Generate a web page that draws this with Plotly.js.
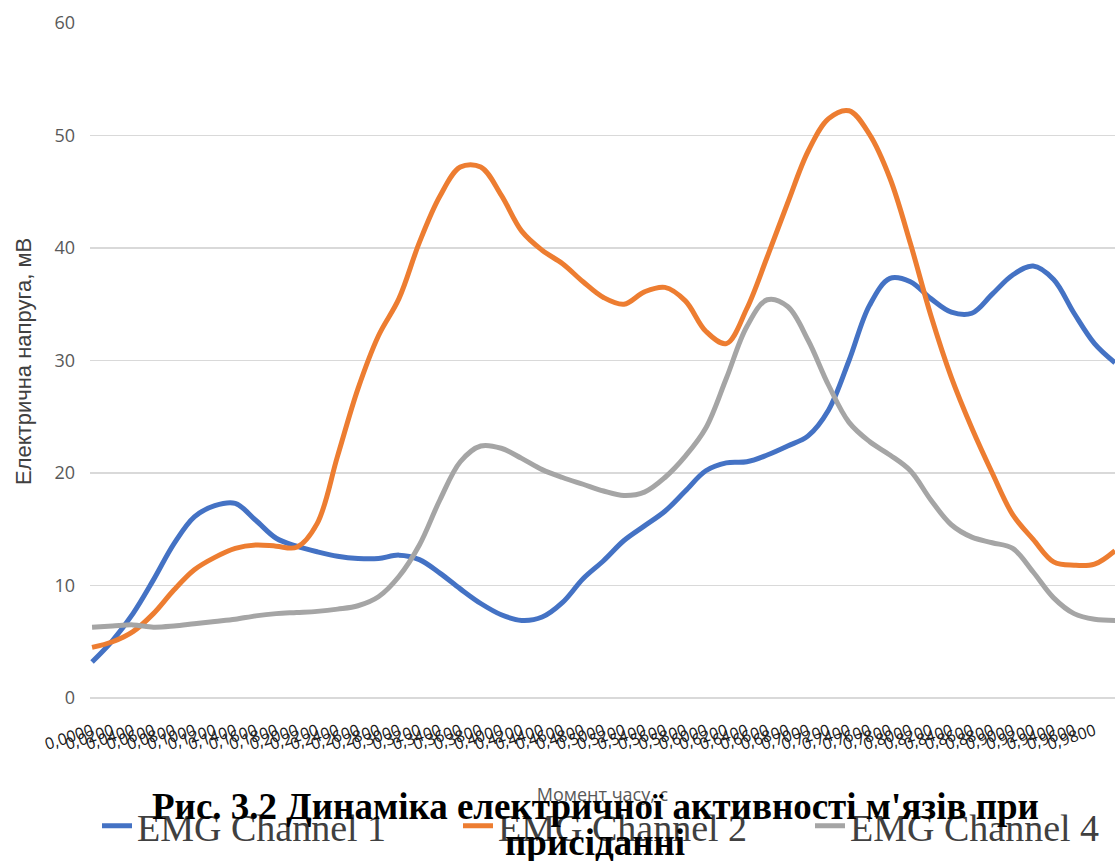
<!DOCTYPE html>
<html>
<head>
<meta charset="utf-8">
<script src="https://cdn.plot.ly/plotly-3.0.1.min.js"></script>
<style>html,body{margin:0;padding:0;background:#fff;}#chart{width:1115px;height:861px;}</style>
</head>
<body>
<div id="chart"></div>
<script>
// Time moments (category labels of the x axis), seconds
const timeLabels = ["0,0000","0,0200","0,0400","0,0600","0,0800","0,1000","0,1200","0,1400","0,1600","0,1800",
"0,2000","0,2200","0,2400","0,2600","0,2800","0,3000","0,3200","0,3400","0,3600","0,3800",
"0,4000","0,4200","0,4400","0,4600","0,4800","0,5000","0,5200","0,5400","0,5600","0,5800",
"0,6000","0,6200","0,6400","0,6600","0,6800","0,7000","0,7200","0,7400","0,7600","0,7800",
"0,8000","0,8200","0,8400","0,8600","0,8800","0,9000","0,9200","0,9400","0,9600","0,9800","1,0000"];

const channel1 = [3.2,5.1,7.5,10.5,13.7,16.1,17.1,17.3,15.8,14.2,
13.5,13.0,12.6,12.4,12.4,12.7,12.3,11.1,9.7,8.4,
7.4,6.9,7.2,8.5,10.6,12.2,14.0,15.3,16.6,18.4,
20.2,20.9,21.0,21.6,22.4,23.3,25.6,30.0,34.9,37.3,
37.0,35.5,34.3,34.2,35.9,37.6,38.4,37.2,34.2,31.5,29.8];

const channel2 = [4.5,5.0,5.9,7.5,9.6,11.4,12.5,13.3,13.6,13.5,
13.4,15.5,21.5,27.5,32.2,35.5,40.5,44.6,47.2,47.2,
44.7,41.5,39.8,38.6,37.0,35.6,35.0,36.1,36.5,35.3,
32.6,31.5,34.6,39.2,44.0,48.6,51.5,52.2,50.1,46.2,
40.4,34.0,28.5,24.0,20.0,16.3,14.1,12.1,11.8,11.9,13.1];

const channel4 = [6.3,6.4,6.5,6.3,6.4,6.6,6.8,7.0,7.3,7.5,
7.6,7.7,7.9,8.2,9.0,10.8,13.6,17.6,21.0,22.4,
22.2,21.3,20.3,19.6,19.0,18.4,18.0,18.3,19.6,21.5,
24.0,28.4,33.0,35.4,34.8,31.8,27.8,24.5,22.8,21.6,
20.2,17.6,15.4,14.3,13.8,13.3,11.2,8.9,7.5,7.0,6.9];

const seriesNames = ["EMG Channel 1","EMG Channel 2","EMG Channel 4"];
const seriesColors = ["#4472C4","#ED7D31","#A5A5A5"];
const seriesData = [channel1, channel2, channel4];
const legendIds = ["legend","legend2","legend3"];

const yTitle = "Електрична напруга, мВ";
const xTitle = "Момент часу, с";
const captionLine1 = "Рис. 3.2 Динаміка електричної активності м'язів при";
const captionLine2 = "присіданні";

const idx = timeLabels.map((_, i) => i);

const traces = seriesData.map((ys, k) => ({
  x: idx, y: ys, type: "scatter", mode: "lines", name: seriesNames[k],
  legend: legendIds[k],
  line: {color: seriesColors[k], width: 5, shape: "spline", smoothing: 1.0}
}));

function legendAt(px) {
  return {
    xref: "container", yref: "container",
    x: px / 1115, xanchor: "left", y: 1 - 826 / 861, yanchor: "middle",
    font: {family: "Liberation Serif", size: 38, color: "#404040"},
    bgcolor: "rgba(0,0,0,0)", itemwidth: 30
  };
}

// plot area: top 23 px, bottom 698 px; left 90 px, right 1115 px
const plotTop = 23, plotBottom = 698, plotLeft = 90, plotRight = 1115;
function paperY(py) { return (plotBottom - py) / (plotBottom - plotTop); }
function paperX(px) { return (px - plotLeft) / (plotRight - plotLeft); }

const layout = {
  width: 1115, height: 861,
  margin: {l: plotLeft, r: 1115 - plotRight, t: plotTop, b: 861 - plotBottom, autoexpand: false},
  paper_bgcolor: "#fff", plot_bgcolor: "#fff",
  showlegend: true,
  xaxis: {
    range: [-0.1, timeLabels.length - 1],
    tickmode: "array", tickvals: idx, ticktext: timeLabels,
    tickangle: -18, tickfont: {family: "Open Sans", size: 16, color: "#1a1a1a"},
    ticklabelstandoff: 20,
    showgrid: false, zeroline: false, showline: false, ticks: "",
    title: {text: xTitle, font: {family: "Open Sans", size: 18, color: "#595959"}, standoff: 34}
  },
  yaxis: {
    range: [0, 60], dtick: 10, tick0: 0,
    showgrid: true, gridcolor: "#D9D9D9", gridwidth: 1.3,
    zeroline: true, zerolinecolor: "#D9D9D9", zerolinewidth: 1.3,
    showline: false, ticks: "",
    tickfont: {family: "Open Sans", size: 18, color: "#595959"},
    ticklabelstandoff: 14
  },
  legend: legendAt(97),
  legend2: legendAt(458),
  legend3: legendAt(810),
  annotations: [
    {xref: "paper", yref: "paper", x: paperX(23), y: paperY(362), xanchor: "center", yanchor: "middle",
     textangle: -90, showarrow: false, text: yTitle,
     font: {family: "Liberation Sans", size: 22, color: "#404040"}},
    {xref: "paper", yref: "paper", x: paperX(595), y: paperY(806), xanchor: "center", yanchor: "middle",
     showarrow: false, text: "<b>" + captionLine1 + "</b>",
     font: {family: "Liberation Serif", size: 37, color: "#000000"}},
    {xref: "paper", yref: "paper", x: paperX(595), y: paperY(842), xanchor: "center", yanchor: "middle",
     showarrow: false, text: "<b>" + captionLine2 + "</b>",
     font: {family: "Liberation Serif", size: 37, color: "#000000"}}
  ]
};

Plotly.newPlot("chart", traces, layout, {displayModeBar: false, staticPlot: true});
</script>
</body>
</html>
